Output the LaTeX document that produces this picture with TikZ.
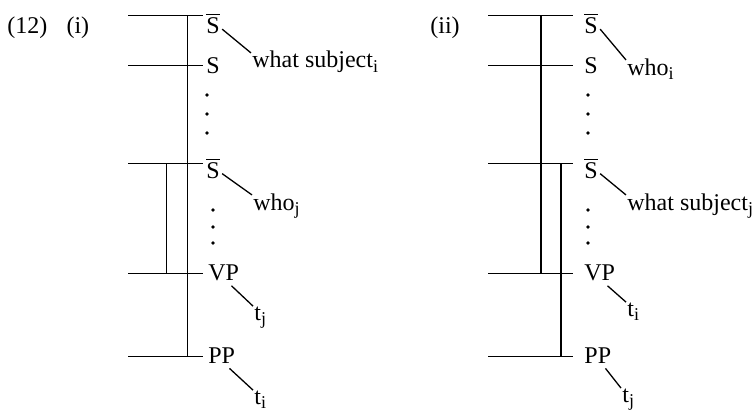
\documentclass[tikz,border=0pt]{standalone}
\usepackage{fontspec}
\setmainfont{Liberation Serif}
\newcommand{\sbar}{$\overline{\mbox{S}}$}
\newcommand{\idx}[1]{\raisebox{-0.45ex}{\fontsize{9}{10}\selectfont #1}}
\tikzset{
  lbl/.style={anchor=base west, inner sep=0pt, font=\fontsize{12}{14}\selectfont},
  tdot/.style={circle, fill, inner sep=0pt, minimum size=1.8pt},
  tree/.style={line width=0.65pt},
}
\begin{document}
\begin{tikzpicture}[x=0.5pt,y=-0.5pt]
    \useasboundingbox (0,0) rectangle (755,412);

    % Example numbers
    \node[lbl] (numi) at (7,33) {(12)\hspace{0.8em}(i)};
    \node[lbl] (numii) at (430,33) {(ii)};

    % Horizontal bars of both trees
    \foreach \y [count=\k] in {15.7,65.7,163.3,273.5,356.7} {
        \coordinate (Li\k) at (128,\y); \coordinate (Ri\k) at (203,\y);
        \draw[tree] (Li\k) -- (Ri\k);
        \coordinate (Lii\k) at (488,\y); \coordinate (Rii\k) at (573,\y);
        \draw[tree] (Lii\k) -- (Rii\k);
    }

    % Vertical paths
    \coordinate (pathi) at (187.7,0);
    \coordinate (pathj) at (166.7,0);
    \draw[tree] (Li1 -| pathi) -- (Li5 -| pathi);
    \draw[tree] (Li3 -| pathj) -- (Li4 -| pathj);
    \coordinate (pathii) at (541,0);
    \coordinate (pathjj) at (561,0);
    \draw[tree] (Lii1 -| pathii) -- (Lii4 -| pathii);
    \draw[tree] (Lii3 -| pathjj) -- (Lii5 -| pathjj);

    % Category labels (i)
    \node[lbl] (Sbi1) at (206,33.5) {\sbar};
    \node[lbl] (Si) at (206,73) {S};
    \node[lbl] (Sbi2) at (206,178) {\sbar};
    \node[lbl] (VPi) at (208,280) {VP};
    \node[lbl] (PPi) at (208,363) {PP};

    % Category labels (ii)
    \node[lbl] (Sbii1) at (584,33.5) {\sbar};
    \node[lbl] (Sii) at (584,73) {S};
    \node[lbl] (Sbii2) at (584,178) {\sbar};
    \node[lbl] (VPii) at (584,280) {VP};
    \node[lbl] (PPii) at (584,363) {PP};

    % Moved phrases and traces (i)
    \node[lbl] (whati) at (252,68) {what subject\idx{i}};
    \node[lbl] (whoj) at (253,210) {who\idx{j}};
    \node[lbl] (tVPi) at (254,320) {t\idx{j}};
    \node[lbl] (tPPi) at (254,404) {t\idx{i}};

    % Moved phrases and traces (ii)
    \node[lbl] (whoi) at (627,75) {who\idx{i}};
    \node[lbl] (whatj) at (627,210) {what subject\idx{j}};
    \node[lbl] (tVPii) at (627,316) {t\idx{i}};
    \node[lbl] (tPPii) at (622,402) {t\idx{j}};

    % Branches
    \draw[tree] ([xshift=1pt,yshift=2.5pt]Sbi1.south east) -- ([xshift=-0.5pt,yshift=-1pt]whati.north west);
    \draw[tree] ([xshift=1pt,yshift=2.5pt]Sbi2.south east) -- ([xshift=-0.5pt,yshift=-1pt]whoj.north west);
    \draw[tree] ([xshift=-4pt,yshift=-2.5pt]VPi.south east) -- ([xshift=-0.5pt]tVPi.north west);
    \draw[tree] ([xshift=-3pt,yshift=-2.5pt]PPi.south east) -- ([xshift=-0.5pt]tPPi.north west);
    \draw[tree] ([xshift=1pt,yshift=2.5pt]Sbii1.south east) -- ([xshift=-0.5pt,yshift=-1pt]whoi.north west);
    \draw[tree] ([xshift=1pt,yshift=2.5pt]Sbii2.south east) -- ([xshift=-0.5pt,yshift=-1pt]whatj.north west);
    \draw[tree] ([xshift=-4pt,yshift=-2.5pt]VPii.south east) -- ([xshift=-0.5pt]tVPii.north west);
    \draw[tree] ([xshift=-3pt,yshift=-2.5pt]PPii.south east) -- ([xshift=-0.5pt]tPPii.north west);

    % Dots
    \foreach \y [count=\k] in {95,114,133} {
        \node[tdot] (dai\k) at (207,\y) {};
        \node[tdot] (daii\k) at (588,\y) {};
    }
    \foreach \y [count=\k] in {210,227,243} {
        \node[tdot] (dbi\k) at (213,\y) {};
        \node[tdot] (dbii\k) at (588,\y) {};
    }
\end{tikzpicture}
\end{document}
